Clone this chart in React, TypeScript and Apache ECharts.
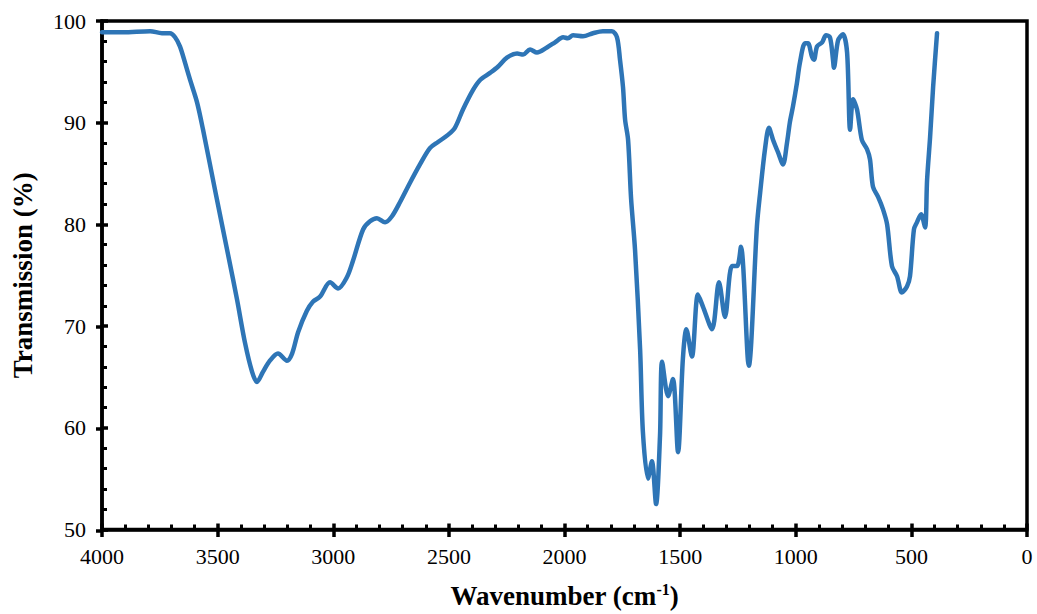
import React, { useEffect, useRef } from "react";
import * as echarts from "echarts";

const wavenumber = [
  4000, 3909, 3792, 3741, 3706, 3684, 3663, 3641, 3619, 3589, 3563, 3507, 3451, 3416, 3382, 3351, 3330, 3304,
  3274, 3239, 3200, 3178, 3152, 3114, 3088, 3057, 3014, 2979, 2941, 2915, 2871, 2841, 2811, 2776, 2746, 2711,
  2668, 2625, 2582, 2547, 2504, 2474, 2439, 2396, 2365, 2322, 2288, 2249, 2205, 2179, 2149, 2119, 2076, 2041,
  2006, 1985, 1963, 1920, 1877, 1834, 1795, 1773, 1760, 1747, 1738, 1725, 1712, 1695, 1673, 1661, 1639, 1622,
  1604, 1587, 1578, 1552, 1531, 1509, 1488, 1473, 1449, 1423, 1401, 1362, 1332, 1306, 1276, 1254, 1237, 1203,
  1168, 1154, 1133, 1116, 1098, 1077, 1055, 1038, 1025, 1012, 995, 982, 960, 947, 930, 921, 908, 886, 869, 852,
  839, 835, 817, 796, 778, 765, 752, 735, 714, 692, 679, 666, 644, 623, 605, 584, 562, 541, 519, 506, 489, 476,
  458, 441, 432, 419, 406, 389,
];

const transmission = [
  98.9, 98.9, 99.0, 98.8, 98.8, 98.4, 97.5, 95.9, 94.2, 92.0, 89.3, 82.9, 76.6, 72.6, 68.4, 65.5, 64.5, 65.5,
  66.6, 67.3, 66.6, 67.3, 69.4, 71.5, 72.4, 72.9, 74.3, 73.7, 74.8, 76.4, 79.5, 80.3, 80.6, 80.2, 80.8, 82.2,
  84.1, 85.9, 87.5, 88.1, 88.8, 89.5, 91.3, 93.2, 94.2, 94.9, 95.5, 96.4, 96.8, 96.7, 97.2, 96.9, 97.4, 97.9,
  98.4, 98.3, 98.6, 98.5, 98.8, 99.0, 99.0, 98.4, 96.2, 93.5, 90.3, 88.3, 82.5, 77.5, 67.7, 59.6, 55.0, 56.7,
  52.5, 59.2, 66.5, 63.1, 64.8, 57.6, 66.8, 69.7, 67.0, 73.1, 71.9, 69.7, 74.3, 70.9, 75.9, 75.9, 77.8, 66.1,
  79.8, 83.1, 87.4, 89.5, 88.3, 87.1, 85.9, 88.0, 90.1, 91.6, 93.9, 95.9, 97.8, 97.8, 96.5, 96.2, 97.5, 97.9,
  98.6, 98.4, 96.2, 95.4, 98.1, 98.7, 96.9, 89.3, 92.3, 91.3, 88.3, 87.4, 86.4, 83.7, 82.7, 81.5, 80.0, 75.9,
  74.9, 73.3, 73.9, 74.9, 79.5, 80.2, 81.0, 79.7, 84.4, 88.6, 93.5, 98.8,
];

const xTicks = { min: 0, max: 4000, interval: 500 };
const yTicks = { min: 50, max: 100, interval: 10 };

export default function App() {
  const ref = useRef<HTMLDivElement>(null);
  useEffect(() => {
    if (!ref.current) return;
    const chart = echarts.init(ref.current, undefined, { renderer: "svg" });
    const font = "'Liberation Serif', 'Times New Roman', serif";
    const data = wavenumber.map((w, i) => [w, transmission[i]]);
    const gridBox = { left: 102, right: 10, top: 21, bottom: 83 };
    const outerTick = { show: true, inside: false, length: 6, lineStyle: { color: "#000", width: 3.5 } };
    chart.setOption({
      animation: false,
      grid: [
        { ...gridBox, show: true, borderColor: "#000", borderWidth: 3.5, backgroundColor: "transparent" },
        { ...gridBox, show: false },
      ],
      xAxis: [
        {
          type: "value",
          gridIndex: 0,
          inverse: true,
          min: xTicks.min,
          max: xTicks.max,
          interval: xTicks.interval,
          position: "bottom",
          name: "Wavenumber (cm{sup|-1})",
          nameLocation: "middle",
          nameGap: 52,
          nameTextStyle: {
            fontFamily: font,
            fontWeight: "bold",
            fontSize: 27,
            color: "#000",
            rich: {
              sup: { fontFamily: font, fontWeight: "bold", fontSize: 16, verticalAlign: "top", padding: [0, 0, 12, 0] },
            },
          },
          axisLine: { show: true, onZero: false, lineStyle: { color: "#000", width: 3.5 } },
          axisTick: { show: true, inside: true, length: 6, lineStyle: { color: "#000", width: 3.5 } },
          minorTick: { show: true, splitNumber: 5, length: 5, lineStyle: { color: "#000", width: 3 } },
          axisLabel: { fontFamily: font, fontSize: 22, color: "#000", margin: 16, formatter: (v: number) => String(v) },
          splitLine: { show: false },
        },
        {
          type: "value",
          gridIndex: 1,
          inverse: true,
          min: xTicks.min,
          max: xTicks.max,
          interval: xTicks.interval,
          position: "bottom",
          axisLine: { show: false, onZero: false },
          axisTick: outerTick,
          axisLabel: { show: false },
          splitLine: { show: false },
        },
      ],
      yAxis: [
        {
          type: "value",
          gridIndex: 0,
          min: yTicks.min,
          max: yTicks.max,
          interval: yTicks.interval,
          position: "left",
          name: "Transmission (%)",
          nameLocation: "middle",
          nameGap: 66,
          nameTextStyle: { fontFamily: font, fontWeight: "bold", fontSize: 27, color: "#000" },
          axisLine: { show: true, onZero: false, lineStyle: { color: "#000", width: 3.5 } },
          axisTick: { show: true, inside: true, length: 6, lineStyle: { color: "#000", width: 3.5 } },
          minorTick: { show: true, splitNumber: 5, length: 5, lineStyle: { color: "#000", width: 3 } },
          axisLabel: { fontFamily: font, fontSize: 22, color: "#000", margin: 16 },
          splitLine: { show: false },
        },
        {
          type: "value",
          gridIndex: 1,
          min: yTicks.min,
          max: yTicks.max,
          interval: yTicks.interval,
          position: "left",
          axisLine: { show: false, onZero: false },
          axisTick: outerTick,
          axisLabel: { show: false },
          splitLine: { show: false },
        },
      ],
      series: [
        {
          type: "line",
          xAxisIndex: 0,
          yAxisIndex: 0,
          data,
          smooth: 0.3,
          showSymbol: false,
          lineStyle: { color: "#2E75B6", width: 4.5, join: "round", cap: "round" },
          z: 1,
        },
      ],
    });
    return () => chart.dispose();
  }, []);
  return <div ref={ref} style={{ width: 1037, height: 614, position: "absolute", left: 0, top: 0 }} />;
}
